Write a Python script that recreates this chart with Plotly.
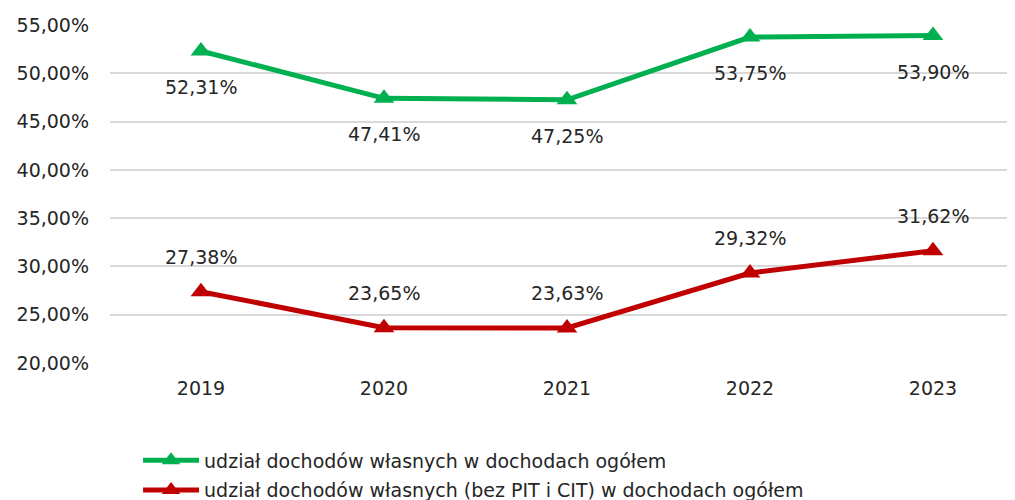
import plotly.graph_objects as go

years = ["2019", "2020", "2021", "2022", "2023"]
green_vals = [52.31, 47.41, 47.25, 53.75, 53.90]
red_vals = [27.38, 23.65, 23.63, 29.32, 31.62]
green_name = "udział dochodów własnych w dochodach ogółem"
red_name = "udział dochodów własnych (bez PIT i CIT) w dochodach ogółem"
y_ticks = [20, 25, 30, 35, 40, 45, 50, 55]

GREEN = "#00B050"
RED = "#C00000"
FONT = "DejaVu Sans"
TXT = "#262626"
FS = 19

def pl(v):
    return f"{v:.2f}".replace(".", ",") + "%"

fig = go.Figure()
fig.add_trace(go.Scatter(x=years, y=green_vals, mode="lines+markers", name=green_name,
                         legendgroup="g",
                         line=dict(color=GREEN, width=5),
                         marker=dict(symbol="triangle-up", size=18, color=GREEN)))
fig.add_trace(go.Scatter(x=years, y=red_vals, mode="lines+markers", name=red_name,
                         legendgroup="r",
                         line=dict(color=RED, width=5),
                         marker=dict(symbol="triangle-up", size=18, color=RED)))

for i, v in enumerate(green_vals):
    fig.add_annotation(x=i, y=v, xref="x", yref="y", text=pl(v), showarrow=False,
                       yshift=-36, font=dict(family=FONT, size=FS, color=TXT))
for i, v in enumerate(red_vals):
    fig.add_annotation(x=i, y=v, xref="x", yref="y", text=pl(v), showarrow=False,
                       yshift=35, font=dict(family=FONT, size=FS, color=TXT))

fig.update_layout(
    width=1007, height=492,
    margin=dict(l=102, r=0, t=17, b=137, autoexpand=False),
    paper_bgcolor="white", plot_bgcolor="white",
    font=dict(family=FONT, size=FS, color=TXT),
    showlegend=True,
    legend=dict(x=0.031, y=-0.232, xanchor="left", yanchor="top",
                orientation="v", font=dict(family=FONT, size=FS, color=TXT),
                tracegroupgap=2, itemwidth=56),
)
fig.update_xaxes(type="category", range=[-0.497, 4.448], showgrid=False,
                 showline=False, ticks="", ticklabelstandoff=12, automargin=False,
                 tickfont=dict(size=FS, color=TXT))
fig.update_yaxes(range=[20, 55], tickvals=y_ticks,
                 ticktext=[f"{t},00%" for t in y_ticks],
                 showgrid=True, gridcolor="#D9D9D9", gridwidth=2,
                 zeroline=False, showline=False, ticks="", ticklabelstandoff=20,
                 automargin=False,
                 tickfont=dict(size=FS, color=TXT))

fig.write_html("out.html")
